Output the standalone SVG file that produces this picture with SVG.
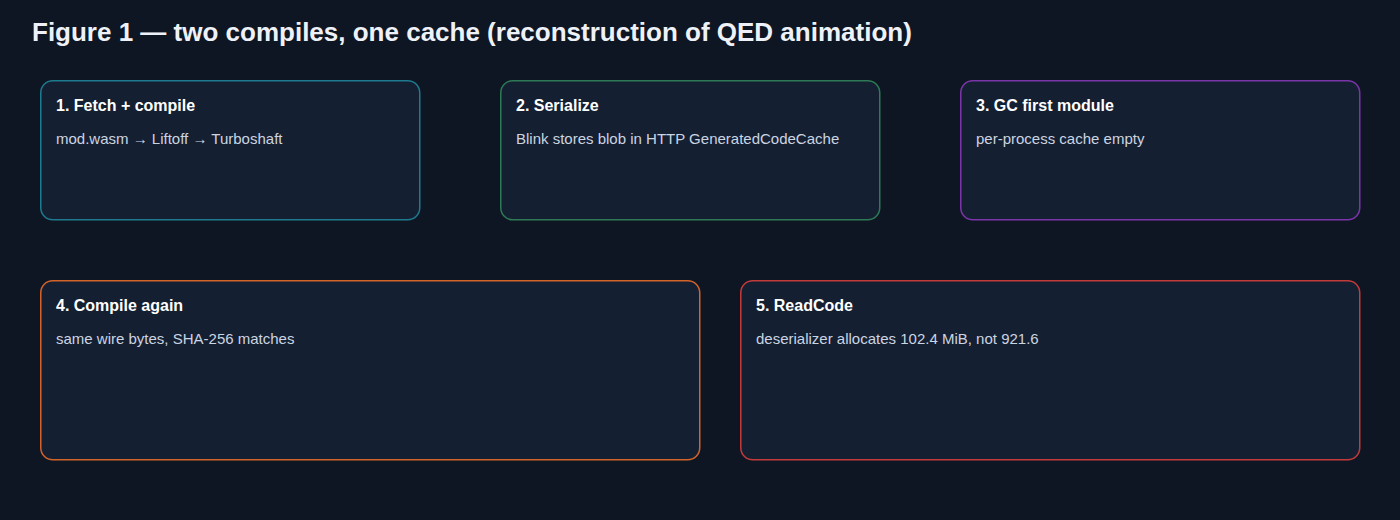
<svg xmlns="http://www.w3.org/2000/svg" width="1400" height="520" viewBox="0 0 1400 520">
<style>
.bg{fill:#0f1623}
.box{fill:#151f32;stroke-width:1.5}
.title{font-family:"Liberation Sans",Arial,sans-serif;font-size:26px;font-weight:bold;fill:#eef2f8}
.h{font-family:"Liberation Sans",Arial,sans-serif;font-size:16px;font-weight:bold;fill:#ffffff}
.t{font-family:"Liberation Sans",Arial,sans-serif;font-size:15px;fill:#cbd5e1}
</style>
<rect class="bg" x="0" y="0" width="1400" height="520"/>
<text class="title" x="32" y="41">Figure 1 — two compiles, one cache (reconstruction of QED animation)</text>
<g id="connectors"></g>
<g id="node1">
<rect class="box" x="40.75" y="80.75" width="379" height="139" rx="12" stroke="#1e7a8e"/>
<text class="h" x="56" y="111">1. Fetch + compile</text>
<text class="t" x="56" y="144">mod.wasm → Liftoff → Turboshaft</text>
</g>
<g id="node2">
<rect class="box" x="500.75" y="80.75" width="379" height="139" rx="12" stroke="#2d7a55"/>
<text class="h" x="516" y="111">2. Serialize</text>
<text class="t" x="516" y="144">Blink stores blob in HTTP GeneratedCodeCache</text>
</g>
<g id="node3">
<rect class="box" x="960.75" y="80.75" width="399" height="139" rx="12" stroke="#7b35a8"/>
<text class="h" x="976" y="111">3. GC first module</text>
<text class="t" x="976" y="144">per-process cache empty</text>
</g>
<g id="node4">
<rect class="box" x="40.75" y="280.75" width="659" height="179" rx="12" stroke="#d2642a"/>
<text class="h" x="56" y="311">4. Compile again</text>
<text class="t" x="56" y="344">same wire bytes, SHA-256 matches</text>
</g>
<g id="node5">
<rect class="box" x="740.75" y="280.75" width="619" height="179" rx="12" stroke="#c23a3a"/>
<text class="h" x="756" y="311">5. ReadCode</text>
<text class="t" x="756" y="344">deserializer allocates 102.4 MiB, not 921.6</text>
</g>
</svg>
